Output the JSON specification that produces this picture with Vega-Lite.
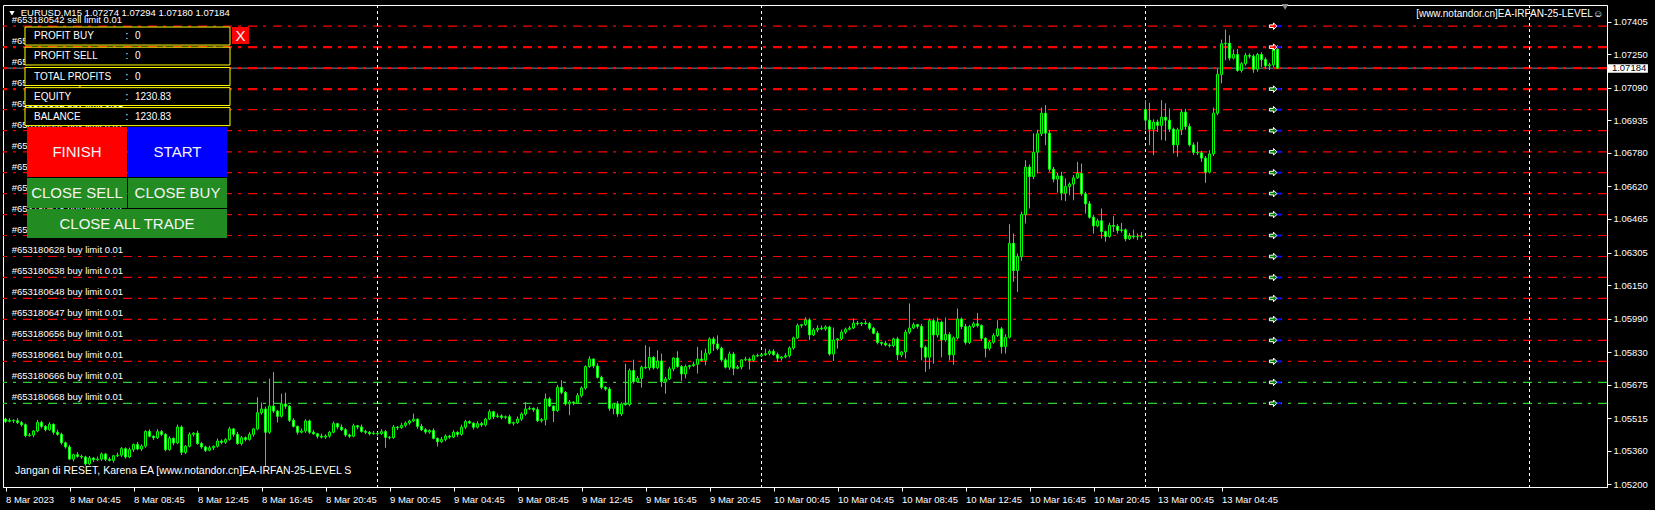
{
"$schema": "https://vega.github.io/schema/vega-lite/v6.json",
"width": 1604, "height": 482,
"autosize": {"type": "none"},
"padding": {"left": 3, "top": 5, "right": 48, "bottom": 23},
"background": "#000000",
"config": {"view": {"stroke": "#ffffff", "fill": "#000000"}, "font": "Liberation Sans"},
"resolve": {"scale": {"fill": "independent", "size": "independent"}, "axis": {"x": "independent", "y": "independent"}},
"datasets": {
"candles": [
{"i":0,"o":1.05511,"h":1.05517,"l":1.05492,"c":1.05500},
{"i":1,"o":1.05500,"h":1.05515,"l":1.05495,"c":1.05505},
{"i":2,"o":1.05505,"h":1.05509,"l":1.05492,"c":1.05503},
{"i":3,"o":1.05503,"h":1.05515,"l":1.05488,"c":1.05494},
{"i":4,"o":1.05494,"h":1.05502,"l":1.05475,"c":1.05484},
{"i":5,"o":1.05484,"h":1.05490,"l":1.05424,"c":1.05432},
{"i":6,"o":1.05432,"h":1.05445,"l":1.05427,"c":1.05435},
{"i":7,"o":1.05435,"h":1.05458,"l":1.05424,"c":1.05454},
{"i":8,"o":1.05454,"h":1.05507,"l":1.05448,"c":1.05495},
{"i":9,"o":1.05495,"h":1.05503,"l":1.05467,"c":1.05476},
{"i":10,"o":1.05476,"h":1.05482,"l":1.05452,"c":1.05460},
{"i":11,"o":1.05460,"h":1.05496,"l":1.05455,"c":1.05486},
{"i":12,"o":1.05486,"h":1.05490,"l":1.05437,"c":1.05448},
{"i":13,"o":1.05448,"h":1.05460,"l":1.05432,"c":1.05438},
{"i":14,"o":1.05438,"h":1.05446,"l":1.05389,"c":1.05398},
{"i":15,"o":1.05398,"h":1.05404,"l":1.05370,"c":1.05378},
{"i":16,"o":1.05378,"h":1.05388,"l":1.05315,"c":1.05320},
{"i":17,"o":1.05320,"h":1.05345,"l":1.05309,"c":1.05341},
{"i":18,"o":1.05341,"h":1.05353,"l":1.05327,"c":1.05333},
{"i":19,"o":1.05333,"h":1.05341,"l":1.05321,"c":1.05330},
{"i":20,"o":1.05330,"h":1.05336,"l":1.05289,"c":1.05297},
{"i":21,"o":1.05297,"h":1.05335,"l":1.05292,"c":1.05325},
{"i":22,"o":1.05325,"h":1.05329,"l":1.05306,"c":1.05317},
{"i":23,"o":1.05317,"h":1.05332,"l":1.05311,"c":1.05320},
{"i":24,"o":1.05320,"h":1.05352,"l":1.05311,"c":1.05344},
{"i":25,"o":1.05344,"h":1.05350,"l":1.05311,"c":1.05319},
{"i":26,"o":1.05319,"h":1.05329,"l":1.05309,"c":1.05314},
{"i":27,"o":1.05314,"h":1.05340,"l":1.05303,"c":1.05336},
{"i":28,"o":1.05336,"h":1.05351,"l":1.05330,"c":1.05339},
{"i":29,"o":1.05339,"h":1.05378,"l":1.05330,"c":1.05370},
{"i":30,"o":1.05370,"h":1.05376,"l":1.05322,"c":1.05330},
{"i":31,"o":1.05330,"h":1.05375,"l":1.05325,"c":1.05365},
{"i":32,"o":1.05365,"h":1.05394,"l":1.05354,"c":1.05390},
{"i":33,"o":1.05390,"h":1.05402,"l":1.05362,"c":1.05368},
{"i":34,"o":1.05368,"h":1.05390,"l":1.05359,"c":1.05382},
{"i":35,"o":1.05382,"h":1.05458,"l":1.05374,"c":1.05452},
{"i":36,"o":1.05452,"h":1.05462,"l":1.05424,"c":1.05429},
{"i":37,"o":1.05429,"h":1.05433,"l":1.05411,"c":1.05422},
{"i":38,"o":1.05422,"h":1.05463,"l":1.05416,"c":1.05451},
{"i":39,"o":1.05451,"h":1.05459,"l":1.05429,"c":1.05438},
{"i":40,"o":1.05438,"h":1.05444,"l":1.05357,"c":1.05365},
{"i":41,"o":1.05365,"h":1.05429,"l":1.05360,"c":1.05419},
{"i":42,"o":1.05419,"h":1.05423,"l":1.05386,"c":1.05397},
{"i":43,"o":1.05397,"h":1.05485,"l":1.05391,"c":1.05473},
{"i":44,"o":1.05473,"h":1.05481,"l":1.05340,"c":1.05352},
{"i":45,"o":1.05352,"h":1.05387,"l":1.05344,"c":1.05381},
{"i":46,"o":1.05381,"h":1.05448,"l":1.05376,"c":1.05438},
{"i":47,"o":1.05438,"h":1.05448,"l":1.05427,"c":1.05444},
{"i":48,"o":1.05444,"h":1.05456,"l":1.05388,"c":1.05394},
{"i":49,"o":1.05394,"h":1.05402,"l":1.05369,"c":1.05378},
{"i":50,"o":1.05378,"h":1.05384,"l":1.05354,"c":1.05362},
{"i":51,"o":1.05362,"h":1.05384,"l":1.05357,"c":1.05374},
{"i":52,"o":1.05374,"h":1.05385,"l":1.05363,"c":1.05381},
{"i":53,"o":1.05381,"h":1.05418,"l":1.05375,"c":1.05406},
{"i":54,"o":1.05406,"h":1.05414,"l":1.05391,"c":1.05400},
{"i":55,"o":1.05400,"h":1.05419,"l":1.05392,"c":1.05413},
{"i":56,"o":1.05413,"h":1.05474,"l":1.05408,"c":1.05464},
{"i":57,"o":1.05464,"h":1.05468,"l":1.05427,"c":1.05438},
{"i":58,"o":1.05438,"h":1.05450,"l":1.05388,"c":1.05394},
{"i":59,"o":1.05394,"h":1.05430,"l":1.05385,"c":1.05422},
{"i":60,"o":1.05422,"h":1.05428,"l":1.05405,"c":1.05413},
{"i":61,"o":1.05413,"h":1.05448,"l":1.05408,"c":1.05438},
{"i":62,"o":1.05438,"h":1.05468,"l":1.05427,"c":1.05464},
{"i":63,"o":1.05464,"h":1.05615,"l":1.05458,"c":1.05541},
{"i":64,"o":1.05541,"h":1.05590,"l":1.05532,"c":1.05559},
{"i":65,"o":1.05559,"h":1.05570,"l":1.05285,"c":1.05448},
{"i":66,"o":1.05448,"h":1.05704,"l":1.05440,"c":1.05573},
{"i":67,"o":1.05573,"h":1.05735,"l":1.05540,"c":1.05549},
{"i":68,"o":1.05549,"h":1.05555,"l":1.05495,"c":1.05524},
{"i":69,"o":1.05524,"h":1.05632,"l":1.05518,"c":1.05583},
{"i":70,"o":1.05583,"h":1.05637,"l":1.05560,"c":1.05572},
{"i":71,"o":1.05572,"h":1.05578,"l":1.05497,"c":1.05505},
{"i":72,"o":1.05505,"h":1.05515,"l":1.05471,"c":1.05476},
{"i":73,"o":1.05476,"h":1.05480,"l":1.05437,"c":1.05448},
{"i":74,"o":1.05448,"h":1.05466,"l":1.05442,"c":1.05454},
{"i":75,"o":1.05454,"h":1.05510,"l":1.05445,"c":1.05502},
{"i":76,"o":1.05502,"h":1.05508,"l":1.05440,"c":1.05448},
{"i":77,"o":1.05448,"h":1.05458,"l":1.05436,"c":1.05441},
{"i":78,"o":1.05441,"h":1.05445,"l":1.05418,"c":1.05429},
{"i":79,"o":1.05429,"h":1.05441,"l":1.05419,"c":1.05425},
{"i":80,"o":1.05425,"h":1.05438,"l":1.05416,"c":1.05430},
{"i":81,"o":1.05430,"h":1.05454,"l":1.05422,"c":1.05448},
{"i":82,"o":1.05448,"h":1.05499,"l":1.05443,"c":1.05489},
{"i":83,"o":1.05489,"h":1.05493,"l":1.05462,"c":1.05473},
{"i":84,"o":1.05473,"h":1.05485,"l":1.05454,"c":1.05460},
{"i":85,"o":1.05460,"h":1.05468,"l":1.05426,"c":1.05435},
{"i":86,"o":1.05435,"h":1.05441,"l":1.05421,"c":1.05429},
{"i":87,"o":1.05429,"h":1.05489,"l":1.05424,"c":1.05479},
{"i":88,"o":1.05479,"h":1.05483,"l":1.05462,"c":1.05473},
{"i":89,"o":1.05473,"h":1.05485,"l":1.05446,"c":1.05452},
{"i":90,"o":1.05452,"h":1.05460,"l":1.05439,"c":1.05448},
{"i":91,"o":1.05448,"h":1.05454,"l":1.05433,"c":1.05441},
{"i":92,"o":1.05441,"h":1.05454,"l":1.05436,"c":1.05444},
{"i":93,"o":1.05444,"h":1.05448,"l":1.05430,"c":1.05441},
{"i":94,"o":1.05441,"h":1.05463,"l":1.05435,"c":1.05451},
{"i":95,"o":1.05451,"h":1.05459,"l":1.05374,"c":1.05424},
{"i":96,"o":1.05424,"h":1.05430,"l":1.05414,"c":1.05422},
{"i":97,"o":1.05422,"h":1.05483,"l":1.05417,"c":1.05473},
{"i":98,"o":1.05473,"h":1.05477,"l":1.05459,"c":1.05470},
{"i":99,"o":1.05470,"h":1.05493,"l":1.05464,"c":1.05481},
{"i":100,"o":1.05481,"h":1.05500,"l":1.05472,"c":1.05492},
{"i":101,"o":1.05492,"h":1.05508,"l":1.05484,"c":1.05502},
{"i":102,"o":1.05502,"h":1.05537,"l":1.05497,"c":1.05510},
{"i":103,"o":1.05510,"h":1.05514,"l":1.05465,"c":1.05476},
{"i":104,"o":1.05476,"h":1.05488,"l":1.05454,"c":1.05460},
{"i":105,"o":1.05460,"h":1.05468,"l":1.05440,"c":1.05449},
{"i":106,"o":1.05449,"h":1.05462,"l":1.05441,"c":1.05456},
{"i":107,"o":1.05456,"h":1.05466,"l":1.05414,"c":1.05419},
{"i":108,"o":1.05419,"h":1.05423,"l":1.05380,"c":1.05403},
{"i":109,"o":1.05403,"h":1.05426,"l":1.05397,"c":1.05414},
{"i":110,"o":1.05414,"h":1.05438,"l":1.05405,"c":1.05430},
{"i":111,"o":1.05430,"h":1.05436,"l":1.05417,"c":1.05425},
{"i":112,"o":1.05425,"h":1.05458,"l":1.05420,"c":1.05448},
{"i":113,"o":1.05448,"h":1.05452,"l":1.05427,"c":1.05438},
{"i":114,"o":1.05438,"h":1.05484,"l":1.05432,"c":1.05472},
{"i":115,"o":1.05472,"h":1.05507,"l":1.05463,"c":1.05499},
{"i":116,"o":1.05499,"h":1.05505,"l":1.05487,"c":1.05492},
{"i":117,"o":1.05492,"h":1.05496,"l":1.05461,"c":1.05472},
{"i":118,"o":1.05472,"h":1.05501,"l":1.05466,"c":1.05489},
{"i":119,"o":1.05489,"h":1.05497,"l":1.05474,"c":1.05483},
{"i":120,"o":1.05483,"h":1.05517,"l":1.05475,"c":1.05511},
{"i":121,"o":1.05511,"h":1.05556,"l":1.05506,"c":1.05546},
{"i":122,"o":1.05546,"h":1.05550,"l":1.05511,"c":1.05522},
{"i":123,"o":1.05522,"h":1.05538,"l":1.05516,"c":1.05526},
{"i":124,"o":1.05526,"h":1.05534,"l":1.05510,"c":1.05519},
{"i":125,"o":1.05519,"h":1.05528,"l":1.05511,"c":1.05522},
{"i":126,"o":1.05522,"h":1.05532,"l":1.05486,"c":1.05491},
{"i":127,"o":1.05491,"h":1.05498,"l":1.05480,"c":1.05494},
{"i":128,"o":1.05494,"h":1.05523,"l":1.05488,"c":1.05511},
{"i":129,"o":1.05511,"h":1.05543,"l":1.05502,"c":1.05535},
{"i":130,"o":1.05535,"h":1.05592,"l":1.05527,"c":1.05559},
{"i":131,"o":1.05559,"h":1.05572,"l":1.05554,"c":1.05562},
{"i":132,"o":1.05562,"h":1.05566,"l":1.05545,"c":1.05556},
{"i":133,"o":1.05556,"h":1.05568,"l":1.05497,"c":1.05503},
{"i":134,"o":1.05503,"h":1.05516,"l":1.05494,"c":1.05508},
{"i":135,"o":1.05508,"h":1.05632,"l":1.05481,"c":1.05607},
{"i":136,"o":1.05607,"h":1.05617,"l":1.05568,"c":1.05573},
{"i":137,"o":1.05573,"h":1.05577,"l":1.05497,"c":1.05551},
{"i":138,"o":1.05551,"h":1.05674,"l":1.05545,"c":1.05662},
{"i":139,"o":1.05662,"h":1.05696,"l":1.05629,"c":1.05638},
{"i":140,"o":1.05638,"h":1.05644,"l":1.05575,"c":1.05583},
{"i":141,"o":1.05583,"h":1.05602,"l":1.05529,"c":1.05592},
{"i":142,"o":1.05592,"h":1.05596,"l":1.05577,"c":1.05588},
{"i":143,"o":1.05588,"h":1.05635,"l":1.05582,"c":1.05623},
{"i":144,"o":1.05623,"h":1.05667,"l":1.05614,"c":1.05659},
{"i":145,"o":1.05659,"h":1.05767,"l":1.05651,"c":1.05761},
{"i":146,"o":1.05761,"h":1.05810,"l":1.05756,"c":1.05797},
{"i":147,"o":1.05797,"h":1.05801,"l":1.05753,"c":1.05764},
{"i":148,"o":1.05764,"h":1.05776,"l":1.05704,"c":1.05710},
{"i":149,"o":1.05710,"h":1.05718,"l":1.05653,"c":1.05662},
{"i":150,"o":1.05662,"h":1.05668,"l":1.05646,"c":1.05654},
{"i":151,"o":1.05654,"h":1.05664,"l":1.05550,"c":1.05562},
{"i":152,"o":1.05562,"h":1.05588,"l":1.05534,"c":1.05584},
{"i":153,"o":1.05584,"h":1.05596,"l":1.05522,"c":1.05535},
{"i":154,"o":1.05535,"h":1.05591,"l":1.05526,"c":1.05583},
{"i":155,"o":1.05583,"h":1.05775,"l":1.05575,"c":1.05580},
{"i":156,"o":1.05580,"h":1.05752,"l":1.05572,"c":1.05742},
{"i":157,"o":1.05742,"h":1.05794,"l":1.05680,"c":1.05689},
{"i":158,"o":1.05689,"h":1.05717,"l":1.05683,"c":1.05705},
{"i":159,"o":1.05705,"h":1.05766,"l":1.05661,"c":1.05758},
{"i":160,"o":1.05758,"h":1.05863,"l":1.05750,"c":1.05755},
{"i":161,"o":1.05755,"h":1.05855,"l":1.05744,"c":1.05805},
{"i":162,"o":1.05805,"h":1.05811,"l":1.05747,"c":1.05755},
{"i":163,"o":1.05755,"h":1.05839,"l":1.05749,"c":1.05788},
{"i":164,"o":1.05788,"h":1.05823,"l":1.05664,"c":1.05689},
{"i":165,"o":1.05689,"h":1.05712,"l":1.05632,"c":1.05702},
{"i":166,"o":1.05702,"h":1.05760,"l":1.05697,"c":1.05750},
{"i":167,"o":1.05750,"h":1.05806,"l":1.05739,"c":1.05802},
{"i":168,"o":1.05802,"h":1.05834,"l":1.05755,"c":1.05761},
{"i":169,"o":1.05761,"h":1.05769,"l":1.05693,"c":1.05726},
{"i":170,"o":1.05726,"h":1.05771,"l":1.05705,"c":1.05761},
{"i":171,"o":1.05761,"h":1.05770,"l":1.05750,"c":1.05766},
{"i":172,"o":1.05766,"h":1.05784,"l":1.05760,"c":1.05772},
{"i":173,"o":1.05772,"h":1.05855,"l":1.05728,"c":1.05797},
{"i":174,"o":1.05797,"h":1.05839,"l":1.05785,"c":1.05791},
{"i":175,"o":1.05791,"h":1.05847,"l":1.05767,"c":1.05825},
{"i":176,"o":1.05825,"h":1.05901,"l":1.05818,"c":1.05893},
{"i":177,"o":1.05893,"h":1.05903,"l":1.05836,"c":1.05869},
{"i":178,"o":1.05869,"h":1.05910,"l":1.05839,"c":1.05848},
{"i":179,"o":1.05848,"h":1.05856,"l":1.05784,"c":1.05793},
{"i":180,"o":1.05793,"h":1.05803,"l":1.05752,"c":1.05758},
{"i":181,"o":1.05758,"h":1.05833,"l":1.05745,"c":1.05821},
{"i":182,"o":1.05821,"h":1.05831,"l":1.05720,"c":1.05753},
{"i":183,"o":1.05753,"h":1.05769,"l":1.05748,"c":1.05759},
{"i":184,"o":1.05759,"h":1.05797,"l":1.05748,"c":1.05793},
{"i":185,"o":1.05793,"h":1.05808,"l":1.05787,"c":1.05796},
{"i":186,"o":1.05796,"h":1.05804,"l":1.05747,"c":1.05791},
{"i":187,"o":1.05791,"h":1.05819,"l":1.05783,"c":1.05813},
{"i":188,"o":1.05813,"h":1.05823,"l":1.05807,"c":1.05812},
{"i":189,"o":1.05812,"h":1.05822,"l":1.05807,"c":1.05818},
{"i":190,"o":1.05818,"h":1.05847,"l":1.05812,"c":1.05823},
{"i":191,"o":1.05823,"h":1.05842,"l":1.05814,"c":1.05834},
{"i":192,"o":1.05834,"h":1.05844,"l":1.05813,"c":1.05818},
{"i":193,"o":1.05818,"h":1.05828,"l":1.05783,"c":1.05801},
{"i":194,"o":1.05801,"h":1.05811,"l":1.05790,"c":1.05807},
{"i":195,"o":1.05807,"h":1.05825,"l":1.05801,"c":1.05813},
{"i":196,"o":1.05813,"h":1.05858,"l":1.05804,"c":1.05850},
{"i":197,"o":1.05850,"h":1.05904,"l":1.05842,"c":1.05898},
{"i":198,"o":1.05898,"h":1.05967,"l":1.05893,"c":1.05957},
{"i":199,"o":1.05957,"h":1.05965,"l":1.05946,"c":1.05961},
{"i":200,"o":1.05961,"h":1.05996,"l":1.05955,"c":1.05984},
{"i":201,"o":1.05984,"h":1.05992,"l":1.05887,"c":1.05912},
{"i":202,"o":1.05912,"h":1.05946,"l":1.05907,"c":1.05936},
{"i":203,"o":1.05936,"h":1.05958,"l":1.05925,"c":1.05944},
{"i":204,"o":1.05944,"h":1.05956,"l":1.05935,"c":1.05941},
{"i":205,"o":1.05941,"h":1.05958,"l":1.05932,"c":1.05950},
{"i":206,"o":1.05950,"h":1.05956,"l":1.05813,"c":1.05821},
{"i":207,"o":1.05821,"h":1.05947,"l":1.05788,"c":1.05888},
{"i":208,"o":1.05888,"h":1.05897,"l":1.05847,"c":1.05893},
{"i":209,"o":1.05893,"h":1.05937,"l":1.05887,"c":1.05925},
{"i":210,"o":1.05925,"h":1.05947,"l":1.05916,"c":1.05939},
{"i":211,"o":1.05939,"h":1.05955,"l":1.05934,"c":1.05945},
{"i":212,"o":1.05945,"h":1.05990,"l":1.05940,"c":1.05968},
{"i":213,"o":1.05968,"h":1.05978,"l":1.05957,"c":1.05965},
{"i":214,"o":1.05965,"h":1.05973,"l":1.05954,"c":1.05969},
{"i":215,"o":1.05969,"h":1.05981,"l":1.05960,"c":1.05966},
{"i":216,"o":1.05966,"h":1.05974,"l":1.05935,"c":1.05944},
{"i":217,"o":1.05944,"h":1.05950,"l":1.05915,"c":1.05920},
{"i":218,"o":1.05920,"h":1.05930,"l":1.05867,"c":1.05876},
{"i":219,"o":1.05876,"h":1.05880,"l":1.05861,"c":1.05872},
{"i":220,"o":1.05872,"h":1.05884,"l":1.05858,"c":1.05864},
{"i":221,"o":1.05864,"h":1.05872,"l":1.05852,"c":1.05861},
{"i":222,"o":1.05861,"h":1.05899,"l":1.05853,"c":1.05893},
{"i":223,"o":1.05893,"h":1.05903,"l":1.05791,"c":1.05817},
{"i":224,"o":1.05817,"h":1.05835,"l":1.05806,"c":1.05831},
{"i":225,"o":1.05831,"h":1.05937,"l":1.05799,"c":1.05925},
{"i":226,"o":1.05925,"h":1.06062,"l":1.05916,"c":1.05945},
{"i":227,"o":1.05945,"h":1.05971,"l":1.05940,"c":1.05961},
{"i":228,"o":1.05961,"h":1.05965,"l":1.05942,"c":1.05953},
{"i":229,"o":1.05953,"h":1.05965,"l":1.05791,"c":1.05853},
{"i":230,"o":1.05853,"h":1.05861,"l":1.05736,"c":1.05806},
{"i":231,"o":1.05806,"h":1.05990,"l":1.05750,"c":1.05980},
{"i":232,"o":1.05980,"h":1.05990,"l":1.05775,"c":1.05912},
{"i":233,"o":1.05912,"h":1.05995,"l":1.05900,"c":1.05973},
{"i":234,"o":1.05973,"h":1.05980,"l":1.05805,"c":1.05888},
{"i":235,"o":1.05888,"h":1.05995,"l":1.05880,"c":1.05914},
{"i":236,"o":1.05914,"h":1.05925,"l":1.05790,"c":1.05817},
{"i":237,"o":1.05817,"h":1.05905,"l":1.05770,"c":1.05898},
{"i":238,"o":1.05898,"h":1.06038,"l":1.05890,"c":1.05988},
{"i":239,"o":1.05988,"h":1.05995,"l":1.05940,"c":1.05952},
{"i":240,"o":1.05952,"h":1.05965,"l":1.05866,"c":1.05876},
{"i":241,"o":1.05876,"h":1.05960,"l":1.05868,"c":1.05952},
{"i":242,"o":1.05952,"h":1.05975,"l":1.05945,"c":1.05965},
{"i":243,"o":1.05965,"h":1.06017,"l":1.05948,"c":1.05957},
{"i":244,"o":1.05957,"h":1.05962,"l":1.05885,"c":1.05896},
{"i":245,"o":1.05896,"h":1.05901,"l":1.05805,"c":1.05848},
{"i":246,"o":1.05848,"h":1.05885,"l":1.05838,"c":1.05877},
{"i":247,"o":1.05877,"h":1.05920,"l":1.05870,"c":1.05909},
{"i":248,"o":1.05909,"h":1.05982,"l":1.05903,"c":1.05941},
{"i":249,"o":1.05941,"h":1.05950,"l":1.05823,"c":1.05856},
{"i":250,"o":1.05856,"h":1.05915,"l":1.05823,"c":1.05901},
{"i":251,"o":1.05901,"h":1.06440,"l":1.05895,"c":1.06349},
{"i":252,"o":1.06349,"h":1.06396,"l":1.06165,"c":1.06219},
{"i":253,"o":1.06219,"h":1.06300,"l":1.06117,"c":1.06286},
{"i":254,"o":1.06286,"h":1.06500,"l":1.06265,"c":1.06486},
{"i":255,"o":1.06486,"h":1.06745,"l":1.06443,"c":1.06712},
{"i":256,"o":1.06712,"h":1.06725,"l":1.06515,"c":1.06667},
{"i":257,"o":1.06667,"h":1.06873,"l":1.06655,"c":1.06783},
{"i":258,"o":1.06783,"h":1.06890,"l":1.06682,"c":1.06871},
{"i":259,"o":1.06871,"h":1.06996,"l":1.06860,"c":1.06969},
{"i":260,"o":1.06969,"h":1.07008,"l":1.06817,"c":1.06874},
{"i":261,"o":1.06874,"h":1.06890,"l":1.06690,"c":1.06702},
{"i":262,"o":1.06702,"h":1.06713,"l":1.06640,"c":1.06655},
{"i":263,"o":1.06655,"h":1.06685,"l":1.06590,"c":1.06670},
{"i":264,"o":1.06670,"h":1.06690,"l":1.06554,"c":1.06588},
{"i":265,"o":1.06588,"h":1.06658,"l":1.06550,"c":1.06620},
{"i":266,"o":1.06620,"h":1.06640,"l":1.06578,"c":1.06631},
{"i":267,"o":1.06631,"h":1.06674,"l":1.06554,"c":1.06661},
{"i":268,"o":1.06661,"h":1.06737,"l":1.06655,"c":1.06682},
{"i":269,"o":1.06682,"h":1.06729,"l":1.06575,"c":1.06585},
{"i":270,"o":1.06585,"h":1.06595,"l":1.06491,"c":1.06537},
{"i":271,"o":1.06537,"h":1.06550,"l":1.06466,"c":1.06473},
{"i":272,"o":1.06473,"h":1.06485,"l":1.06395,"c":1.06432},
{"i":273,"o":1.06432,"h":1.06466,"l":1.06425,"c":1.06456},
{"i":274,"o":1.06456,"h":1.06515,"l":1.06372,"c":1.06405},
{"i":275,"o":1.06405,"h":1.06410,"l":1.06356,"c":1.06381},
{"i":276,"o":1.06381,"h":1.06447,"l":1.06375,"c":1.06434},
{"i":277,"o":1.06434,"h":1.06478,"l":1.06403,"c":1.06430},
{"i":278,"o":1.06430,"h":1.06440,"l":1.06395,"c":1.06410},
{"i":279,"o":1.06410,"h":1.06446,"l":1.06400,"c":1.06413},
{"i":280,"o":1.06413,"h":1.06420,"l":1.06358,"c":1.06370},
{"i":281,"o":1.06370,"h":1.06398,"l":1.06365,"c":1.06384},
{"i":282,"o":1.06384,"h":1.06414,"l":1.06371,"c":1.06380},
{"i":283,"o":1.06380,"h":1.06395,"l":1.06364,"c":1.06381},
{"i":284,"o":1.06381,"h":1.06403,"l":1.06372,"c":1.06384},
{"i":285,"o":1.06987,"h":1.07031,"l":1.06888,"c":1.06936},
{"i":286,"o":1.06936,"h":1.07019,"l":1.06817,"c":1.06893},
{"i":287,"o":1.06893,"h":1.06940,"l":1.06769,"c":1.06927},
{"i":288,"o":1.06927,"h":1.06938,"l":1.06880,"c":1.06911},
{"i":289,"o":1.06911,"h":1.07031,"l":1.06841,"c":1.06950},
{"i":290,"o":1.06950,"h":1.07016,"l":1.06838,"c":1.06936},
{"i":291,"o":1.06936,"h":1.06992,"l":1.06880,"c":1.06893},
{"i":292,"o":1.06893,"h":1.06900,"l":1.06777,"c":1.06818},
{"i":293,"o":1.06818,"h":1.06900,"l":1.06761,"c":1.06890},
{"i":294,"o":1.06890,"h":1.06987,"l":1.06865,"c":1.06974},
{"i":295,"o":1.06974,"h":1.06990,"l":1.06890,"c":1.06906},
{"i":296,"o":1.06906,"h":1.06920,"l":1.06810,"c":1.06818},
{"i":297,"o":1.06818,"h":1.06830,"l":1.06770,"c":1.06782},
{"i":298,"o":1.06782,"h":1.06833,"l":1.06770,"c":1.06780},
{"i":299,"o":1.06780,"h":1.06790,"l":1.06737,"c":1.06755},
{"i":300,"o":1.06755,"h":1.06765,"l":1.06637,"c":1.06688},
{"i":301,"o":1.06688,"h":1.06793,"l":1.06682,"c":1.06775},
{"i":302,"o":1.06775,"h":1.06996,"l":1.06765,"c":1.06969},
{"i":303,"o":1.06969,"h":1.07182,"l":1.06960,"c":1.07154},
{"i":304,"o":1.07154,"h":1.07320,"l":1.07111,"c":1.07300},
{"i":305,"o":1.07300,"h":1.07368,"l":1.07222,"c":1.07303},
{"i":306,"o":1.07303,"h":1.07341,"l":1.07220,"c":1.07232},
{"i":307,"o":1.07232,"h":1.07273,"l":1.07225,"c":1.07249},
{"i":308,"o":1.07249,"h":1.07275,"l":1.07167,"c":1.07173},
{"i":309,"o":1.07173,"h":1.07212,"l":1.07163,"c":1.07205},
{"i":310,"o":1.07205,"h":1.07257,"l":1.07196,"c":1.07245},
{"i":311,"o":1.07245,"h":1.07254,"l":1.07230,"c":1.07241},
{"i":312,"o":1.07241,"h":1.07250,"l":1.07162,"c":1.07179},
{"i":313,"o":1.07179,"h":1.07257,"l":1.07167,"c":1.07249},
{"i":314,"o":1.07249,"h":1.07260,"l":1.07190,"c":1.07225},
{"i":315,"o":1.07225,"h":1.07235,"l":1.07182,"c":1.07195},
{"i":316,"o":1.07195,"h":1.07210,"l":1.07175,"c":1.07200},
{"i":317,"o":1.07200,"h":1.07286,"l":1.07190,"c":1.07274},
{"i":318,"o":1.07274,"h":1.07294,"l":1.07180,"c":1.07184}
],
"levels": [
{"p":1.07384,"grp":"r","n":1,"side":"sell","arrow":true,"lbl":"#653180542 sell limit 0.01"},
{"p":1.07284,"grp":"r","n":2,"side":"sell","arrow":true,"lbl":"#653180552 sell limit 0.01"},
{"p":1.07184,"grp":"r","n":2,"side":"sell","arrow":false,"lbl":"#653180562 sell limit 0.01"},
{"p":1.07084,"grp":"r","n":2,"side":"buy","arrow":true,"lbl":"#653180572 buy limit 0.01"},
{"p":1.06986,"grp":"r","n":1,"side":"buy","arrow":true,"lbl":"#653180582 buy limit 0.01"},
{"p":1.06886,"grp":"r","n":1,"side":"buy","arrow":true,"lbl":"#653180592 buy limit 0.01"},
{"p":1.06785,"grp":"r","n":1,"side":"buy","arrow":true,"lbl":"#653180602 buy limit 0.01"},
{"p":1.06686,"grp":"r","n":1,"side":"buy","arrow":true,"lbl":"#653180608 buy limit 0.01"},
{"p":1.06586,"grp":"r","n":1,"side":"buy","arrow":true,"lbl":"#653180612 buy limit 0.01"},
{"p":1.06486,"grp":"r","n":1,"side":"buy","arrow":true,"lbl":"#653180618 buy limit 0.01"},
{"p":1.06386,"grp":"r","n":1,"side":"buy","arrow":true,"lbl":"#653180622 buy limit 0.01"},
{"p":1.06286,"grp":"r","n":1,"side":"buy","arrow":true,"lbl":"#653180628 buy limit 0.01"},
{"p":1.06186,"grp":"r","n":1,"side":"buy","arrow":true,"lbl":"#653180638 buy limit 0.01"},
{"p":1.06086,"grp":"r","n":1,"side":"buy","arrow":true,"lbl":"#653180648 buy limit 0.01"},
{"p":1.05986,"grp":"r","n":1,"side":"buy","arrow":true,"lbl":"#653180647 buy limit 0.01"},
{"p":1.05886,"grp":"r","n":1,"side":"buy","arrow":true,"lbl":"#653180656 buy limit 0.01"},
{"p":1.05786,"grp":"r","n":1,"side":"buy","arrow":true,"lbl":"#653180661 buy limit 0.01"},
{"p":1.05686,"grp":"g","n":1,"side":"buy","arrow":true,"lbl":"#653180666 buy limit 0.01"},
{"p":1.05586,"grp":"g","n":1,"side":"buy","arrow":true,"lbl":"#653180668 buy limit 0.01"}
],
"days": [{"i":93},{"i":189},{"i":285},{"i":381}],
"bid": [{"p":1.07184,"t":"1.07184","x1":400.6,"x2":410.6,"p1":1.07203,"p2":1.07162}],
"info": [
{"k":"PROFIT BUY","v":"0","x1":4.875,"x2":56.125,"p1":1.07380,"p2":1.07294,"pm":1.07337},
{"k":"PROFIT SELL","v":"0","x1":4.875,"x2":56.125,"p1":1.07284,"p2":1.07199,"pm":1.07241},
{"k":"TOTAL PROFITS","v":"0","x1":4.875,"x2":56.125,"p1":1.07187,"p2":1.07101,"pm":1.07144},
{"k":"EQUITY","v":"1230.83","x1":4.875,"x2":56.125,"p1":1.07091,"p2":1.07006,"pm":1.07048},
{"k":"BALANCE","v":"1230.83","x1":4.875,"x2":56.125,"p1":1.06996,"p2":1.06910,"pm":1.06953}
],
"btns": [
{"t":"FINISH","b":"finish","x1":5.375,"x2":30.375,"p1":1.06903,"p2":1.06665,"xm":17.875,"pm":1.06784},
{"t":"START","b":"start","x1":30.625,"x2":55.375,"p1":1.06903,"p2":1.06665,"xm":43.0,"pm":1.06784},
{"t":"CLOSE SELL","b":"close","x1":5.375,"x2":30.375,"p1":1.06660,"p2":1.06517,"xm":17.875,"pm":1.06588},
{"t":"CLOSE BUY","b":"close","x1":30.625,"x2":55.375,"p1":1.06660,"p2":1.06517,"xm":43.0,"pm":1.06588},
{"t":"CLOSE ALL TRADE","b":"close","x1":5.375,"x2":55.375,"p1":1.06512,"p2":1.06374,"xm":30.375,"pm":1.06443},
{"t":"X","b":"x","x1":56.625,"x2":60.875,"p1":1.07380,"p2":1.07299,"xm":58.75,"pm":1.07339}
],
"texts": [
{"t":"EURUSD,M15  1.07274 1.07294 1.07180 1.07184","x":3.8,"p":1.07448,"a":"left","s":"title"},
{"t":"[www.notandor.cn]EA-IRFAN-25-LEVEL☺","x":399.4,"p":1.07442,"a":"right","s":"note"},
{"t":"Jangan di RESET, Karena EA [www.notandor.cn]EA-IRFAN-25-LEVEL S","x":2.375,"p":1.05263,"a":"left","s":"note"}
]
},
"layer": [
{
"data": {"name": "bid"},
"mark": {"type": "rule", "color": "#778899", "strokeWidth": 1},
"encoding": {
"y": {"field": "p", "type": "quantitative", "scale": {"domain": [1.05187, 1.07485], "zero": false, "nice": false, "padding": 0}, "axis": null}
}
},
{
"data": {"name": "levels"},
"mark": {"type": "rule", "strokeDash": [9, 7, 3, 6], "strokeCap": "butt"},
"encoding": {
"y": {"field": "p", "type": "quantitative", "scale": {"domain": [1.05187, 1.07485], "zero": false, "nice": false, "padding": 0}, "axis": null},
"color": {"field": "grp", "type": "nominal", "scale": {"domain": ["r", "g"], "range": ["#ff0000", "#32cd32"]}, "legend": null},
"strokeWidth": {"field": "n", "type": "quantitative", "scale": {"domain": [1, 2], "range": [1.2, 2.2]}, "legend": null}
}
},
{
"data": {"name": "days"},
"mark": {"type": "rule", "color": "#ffffff", "strokeDash": [3, 3], "strokeWidth": 1},
"encoding": {
"x": {"field": "i", "type": "quantitative", "scale": {"domain": [-0.625, 400.375], "zero": false, "nice": false, "padding": 0}, "axis": null}
}
},
{
"data": {"name": "candles"},
"mark": {"type": "rule", "color": "#00ff00", "strokeWidth": 1},
"encoding": {
"x": {"field": "i", "type": "quantitative", "scale": {"domain": [-0.625, 400.375], "zero": false, "nice": false, "padding": 0}, "axis": null},
"y": {"field": "l", "type": "quantitative", "scale": {"domain": [1.05187, 1.07485], "zero": false, "nice": false, "padding": 0}, "axis": null},
"y2": {"field": "h"}
}
},
{
"data": {"name": "candles"},
"mark": {"type": "bar", "width": 2, "stroke": "#00ff00", "strokeWidth": 1},
"encoding": {
"x": {"field": "i", "type": "quantitative", "scale": {"domain": [-0.625, 400.375], "zero": false, "nice": false, "padding": 0},
"axis": {"orient": "bottom", "values": [0,16,32,48,64,80,96,112,128,144,160,176,192,208,224,240,256,272,288,304],
"labelExpr": "['8 Mar 2023','8 Mar 04:45','8 Mar 08:45','8 Mar 12:45','8 Mar 16:45','8 Mar 20:45','9 Mar 00:45','9 Mar 04:45','9 Mar 08:45','9 Mar 12:45','9 Mar 16:45','9 Mar 20:45','10 Mar 00:45','10 Mar 04:45','10 Mar 08:45','10 Mar 12:45','10 Mar 16:45','10 Mar 20:45','13 Mar 00:45','13 Mar 04:45'][round(datum.value/16)]",
"domainColor": "#ffffff", "tickColor": "#ffffff", "tickSize": 4, "labelColor": "#ffffff", "labelFontSize": 9.5, "labelFont": "Liberation Sans",
"labelAlign": "left", "labelPadding": 3, "labelOverlap": false, "labelBound": false, "labelFlush": false, "grid": false, "title": null}},
"y": {"field": "o", "type": "quantitative", "scale": {"domain": [1.05187, 1.07485], "zero": false, "nice": false, "padding": 0},
"axis": {"orient": "right", "values": [1.052,1.0536,1.05515,1.05675,1.0583,1.0599,1.0615,1.06305,1.06465,1.0662,1.0678,1.06935,1.0709,1.0725,1.07405],
"format": ".5f", "domainColor": "#ffffff", "tickColor": "#ffffff", "tickSize": 4, "labelColor": "#ffffff", "labelFontSize": 9.5, "labelFont": "Liberation Sans",
"labelPadding": 2, "labelOverlap": false, "grid": false, "title": null}},
"y2": {"field": "c"},
"fill": {"condition": {"test": "datum.c < datum.o", "value": "#ffffff"}, "value": "#000000"}
}
},
{
"data": {"name": "levels"},
"transform": [{"filter": "datum.arrow"}],
"mark": {"type": "rule", "color": "#0000ff", "strokeWidth": 2},
"encoding": {
"x": {"datum": 317.3, "type": "quantitative", "scale": {"domain": [-0.625, 400.375], "zero": false, "nice": false, "padding": 0}, "axis": null},
"x2": {"datum": 318.9},
"y": {"field": "p", "type": "quantitative", "scale": {"domain": [1.05187, 1.07485], "zero": false, "nice": false, "padding": 0}, "axis": null}
}
},
{
"data": {"name": "levels"},
"transform": [{"filter": "datum.arrow"}],
"mark": {"type": "point", "shape": "M-1,-0.35L0.1,-0.35L0.1,-0.9L1,0L0.1,0.9L0.1,0.35L-1,0.35Z", "size": 55, "filled": true, "stroke": "#ffffff", "strokeWidth": 1, "opacity": 1},
"encoding": {
"x": {"datum": 316.9, "type": "quantitative", "scale": {"domain": [-0.625, 400.375], "zero": false, "nice": false, "padding": 0}, "axis": null},
"y": {"field": "p", "type": "quantitative", "scale": {"domain": [1.05187, 1.07485], "zero": false, "nice": false, "padding": 0}, "axis": null},
"fill": {"field": "side", "type": "nominal", "scale": {"domain": ["sell", "buy"], "range": ["#ff0000", "#008000"]}, "legend": null}
}
},
{
"data": {"name": "levels"},
"mark": {"type": "text", "align": "left", "baseline": "middle", "dy": -6, "color": "#ffffff", "fontSize": 9.5, "font": "Liberation Sans"},
"encoding": {
"x": {"datum": 1.55, "type": "quantitative", "scale": {"domain": [-0.625, 400.375], "zero": false, "nice": false, "padding": 0}, "axis": null},
"y": {"field": "p", "type": "quantitative", "scale": {"domain": [1.05187, 1.07485], "zero": false, "nice": false, "padding": 0}, "axis": null},
"text": {"field": "lbl"}
}
},
{
"data": {"name": "info"},
"mark": {"type": "rect", "fill": "#000000", "stroke": "#ffff00", "strokeWidth": 1},
"encoding": {
"x": {"field": "x1", "type": "quantitative", "scale": {"domain": [-0.625, 400.375], "zero": false, "nice": false, "padding": 0}, "axis": null},
"x2": {"field": "x2"},
"y": {"field": "p1", "type": "quantitative", "scale": {"domain": [1.05187, 1.07485], "zero": false, "nice": false, "padding": 0}, "axis": null},
"y2": {"field": "p2"}
}
},
{
"data": {"name": "info"},
"mark": {"type": "text", "align": "left", "baseline": "middle", "color": "#ffffff", "fontSize": 10, "font": "Liberation Sans"},
"encoding": {
"x": {"datum": 7.125, "type": "quantitative", "scale": {"domain": [-0.625, 400.375], "zero": false, "nice": false, "padding": 0}, "axis": null},
"y": {"field": "pm", "type": "quantitative", "scale": {"domain": [1.05187, 1.07485], "zero": false, "nice": false, "padding": 0}, "axis": null},
"text": {"field": "k"}
}
},
{
"data": {"name": "info"},
"mark": {"type": "text", "align": "left", "baseline": "middle", "color": "#ffffff", "fontSize": 10, "font": "Liberation Sans", "text": ":"},
"encoding": {
"x": {"datum": 30.0, "type": "quantitative", "scale": {"domain": [-0.625, 400.375], "zero": false, "nice": false, "padding": 0}, "axis": null},
"y": {"field": "pm", "type": "quantitative", "scale": {"domain": [1.05187, 1.07485], "zero": false, "nice": false, "padding": 0}, "axis": null}
}
},
{
"data": {"name": "info"},
"mark": {"type": "text", "align": "left", "baseline": "middle", "color": "#ffffff", "fontSize": 10, "font": "Liberation Sans"},
"encoding": {
"x": {"datum": 32.375, "type": "quantitative", "scale": {"domain": [-0.625, 400.375], "zero": false, "nice": false, "padding": 0}, "axis": null},
"y": {"field": "pm", "type": "quantitative", "scale": {"domain": [1.05187, 1.07485], "zero": false, "nice": false, "padding": 0}, "axis": null},
"text": {"field": "v"}
}
},
{
"data": {"name": "btns"},
"mark": {"type": "rect", "strokeWidth": 0},
"encoding": {
"x": {"field": "x1", "type": "quantitative", "scale": {"domain": [-0.625, 400.375], "zero": false, "nice": false, "padding": 0}, "axis": null},
"x2": {"field": "x2"},
"y": {"field": "p1", "type": "quantitative", "scale": {"domain": [1.05187, 1.07485], "zero": false, "nice": false, "padding": 0}, "axis": null},
"y2": {"field": "p2"},
"fill": {"field": "b", "type": "nominal", "scale": {"domain": ["finish", "start", "close", "x"], "range": ["#ff0000", "#0000ff", "#228b22", "#ff0000"]}, "legend": null}
}
},
{
"data": {"name": "btns"},
"mark": {"type": "text", "align": "center", "baseline": "middle", "color": "#f4f4f4", "font": "Liberation Sans"},
"encoding": {
"x": {"field": "xm", "type": "quantitative", "scale": {"domain": [-0.625, 400.375], "zero": false, "nice": false, "padding": 0}, "axis": null},
"y": {"field": "pm", "type": "quantitative", "scale": {"domain": [1.05187, 1.07485], "zero": false, "nice": false, "padding": 0}, "axis": null},
"text": {"field": "t"},
"size": {"field": "b", "type": "ordinal", "scale": {"domain": ["finish", "start", "close", "x"], "range": [15, 15, 14.5, 12]}, "legend": null}
}
},
{
"data": {"name": "bid"},
"mark": {"type": "rect", "fill": "#ffffff"},
"encoding": {
"x": {"field": "x1", "type": "quantitative", "scale": {"domain": [-0.625, 400.375], "zero": false, "nice": false, "padding": 0}, "axis": null},
"x2": {"field": "x2"},
"y": {"field": "p1", "type": "quantitative", "scale": {"domain": [1.05187, 1.07485], "zero": false, "nice": false, "padding": 0}, "axis": null},
"y2": {"field": "p2"}
}
},
{
"data": {"name": "bid"},
"mark": {"type": "text", "align": "left", "baseline": "middle", "color": "#000000", "fontSize": 9.5, "font": "Liberation Sans"},
"encoding": {
"x": {"datum": 401.6, "type": "quantitative", "scale": {"domain": [-0.625, 400.375], "zero": false, "nice": false, "padding": 0}, "axis": null},
"y": {"field": "p", "type": "quantitative", "scale": {"domain": [1.05187, 1.07485], "zero": false, "nice": false, "padding": 0}, "axis": null},
"text": {"field": "t"}
}
},
{
"data": {"name": "texts"},
"transform": [{"filter": "datum.a == 'left' && datum.s == 'title'"}],
"mark": {"type": "text", "align": "left", "baseline": "middle", "color": "#ffffff", "fontSize": 9.5, "font": "Liberation Sans"},
"encoding": {
"x": {"field": "x", "type": "quantitative", "scale": {"domain": [-0.625, 400.375], "zero": false, "nice": false, "padding": 0}, "axis": null},
"y": {"field": "p", "type": "quantitative", "scale": {"domain": [1.05187, 1.07485], "zero": false, "nice": false, "padding": 0}, "axis": null},
"text": {"field": "t"}
}
},
{
"data": {"name": "texts"},
"transform": [{"filter": "datum.a == 'left' && datum.s == 'note'"}],
"mark": {"type": "text", "align": "left", "baseline": "middle", "color": "#ffffff", "fontSize": 10.5, "font": "Liberation Sans"},
"encoding": {
"x": {"field": "x", "type": "quantitative", "scale": {"domain": [-0.625, 400.375], "zero": false, "nice": false, "padding": 0}, "axis": null},
"y": {"field": "p", "type": "quantitative", "scale": {"domain": [1.05187, 1.07485], "zero": false, "nice": false, "padding": 0}, "axis": null},
"text": {"field": "t"}
}
},
{
"data": {"name": "texts"},
"transform": [{"filter": "datum.a == 'right'"}],
"mark": {"type": "text", "align": "right", "baseline": "middle", "color": "#ffffff", "fontSize": 10, "font": "Liberation Sans"},
"encoding": {
"x": {"field": "x", "type": "quantitative", "scale": {"domain": [-0.625, 400.375], "zero": false, "nice": false, "padding": 0}, "axis": null},
"y": {"field": "p", "type": "quantitative", "scale": {"domain": [1.05187, 1.07485], "zero": false, "nice": false, "padding": 0}, "axis": null},
"text": {"field": "t"}
}
},
{
"data": {"values": [{"m": "menu"}]},
"mark": {"type": "point", "shape": "triangle-down", "filled": true, "color": "#ffffff", "size": 28, "opacity": 1},
"encoding": {
"x": {"datum": 1.625, "type": "quantitative", "scale": {"domain": [-0.625, 400.375], "zero": false, "nice": false, "padding": 0}, "axis": null},
"y": {"datum": 1.07446, "type": "quantitative", "scale": {"domain": [1.05187, 1.07485], "zero": false, "nice": false, "padding": 0}, "axis": null}
}
},
{
"data": {"values": [{"m": "shift"}]},
"mark": {"type": "point", "shape": "triangle-down", "filled": true, "color": "#8a8a8a", "size": 45, "opacity": 1},
"encoding": {
"x": {"datum": 319.9, "type": "quantitative", "scale": {"domain": [-0.625, 400.375], "zero": false, "nice": false, "padding": 0}, "axis": null},
"y": {"datum": 1.07476, "type": "quantitative", "scale": {"domain": [1.05187, 1.07485], "zero": false, "nice": false, "padding": 0}, "axis": null}
}
}
]
}
